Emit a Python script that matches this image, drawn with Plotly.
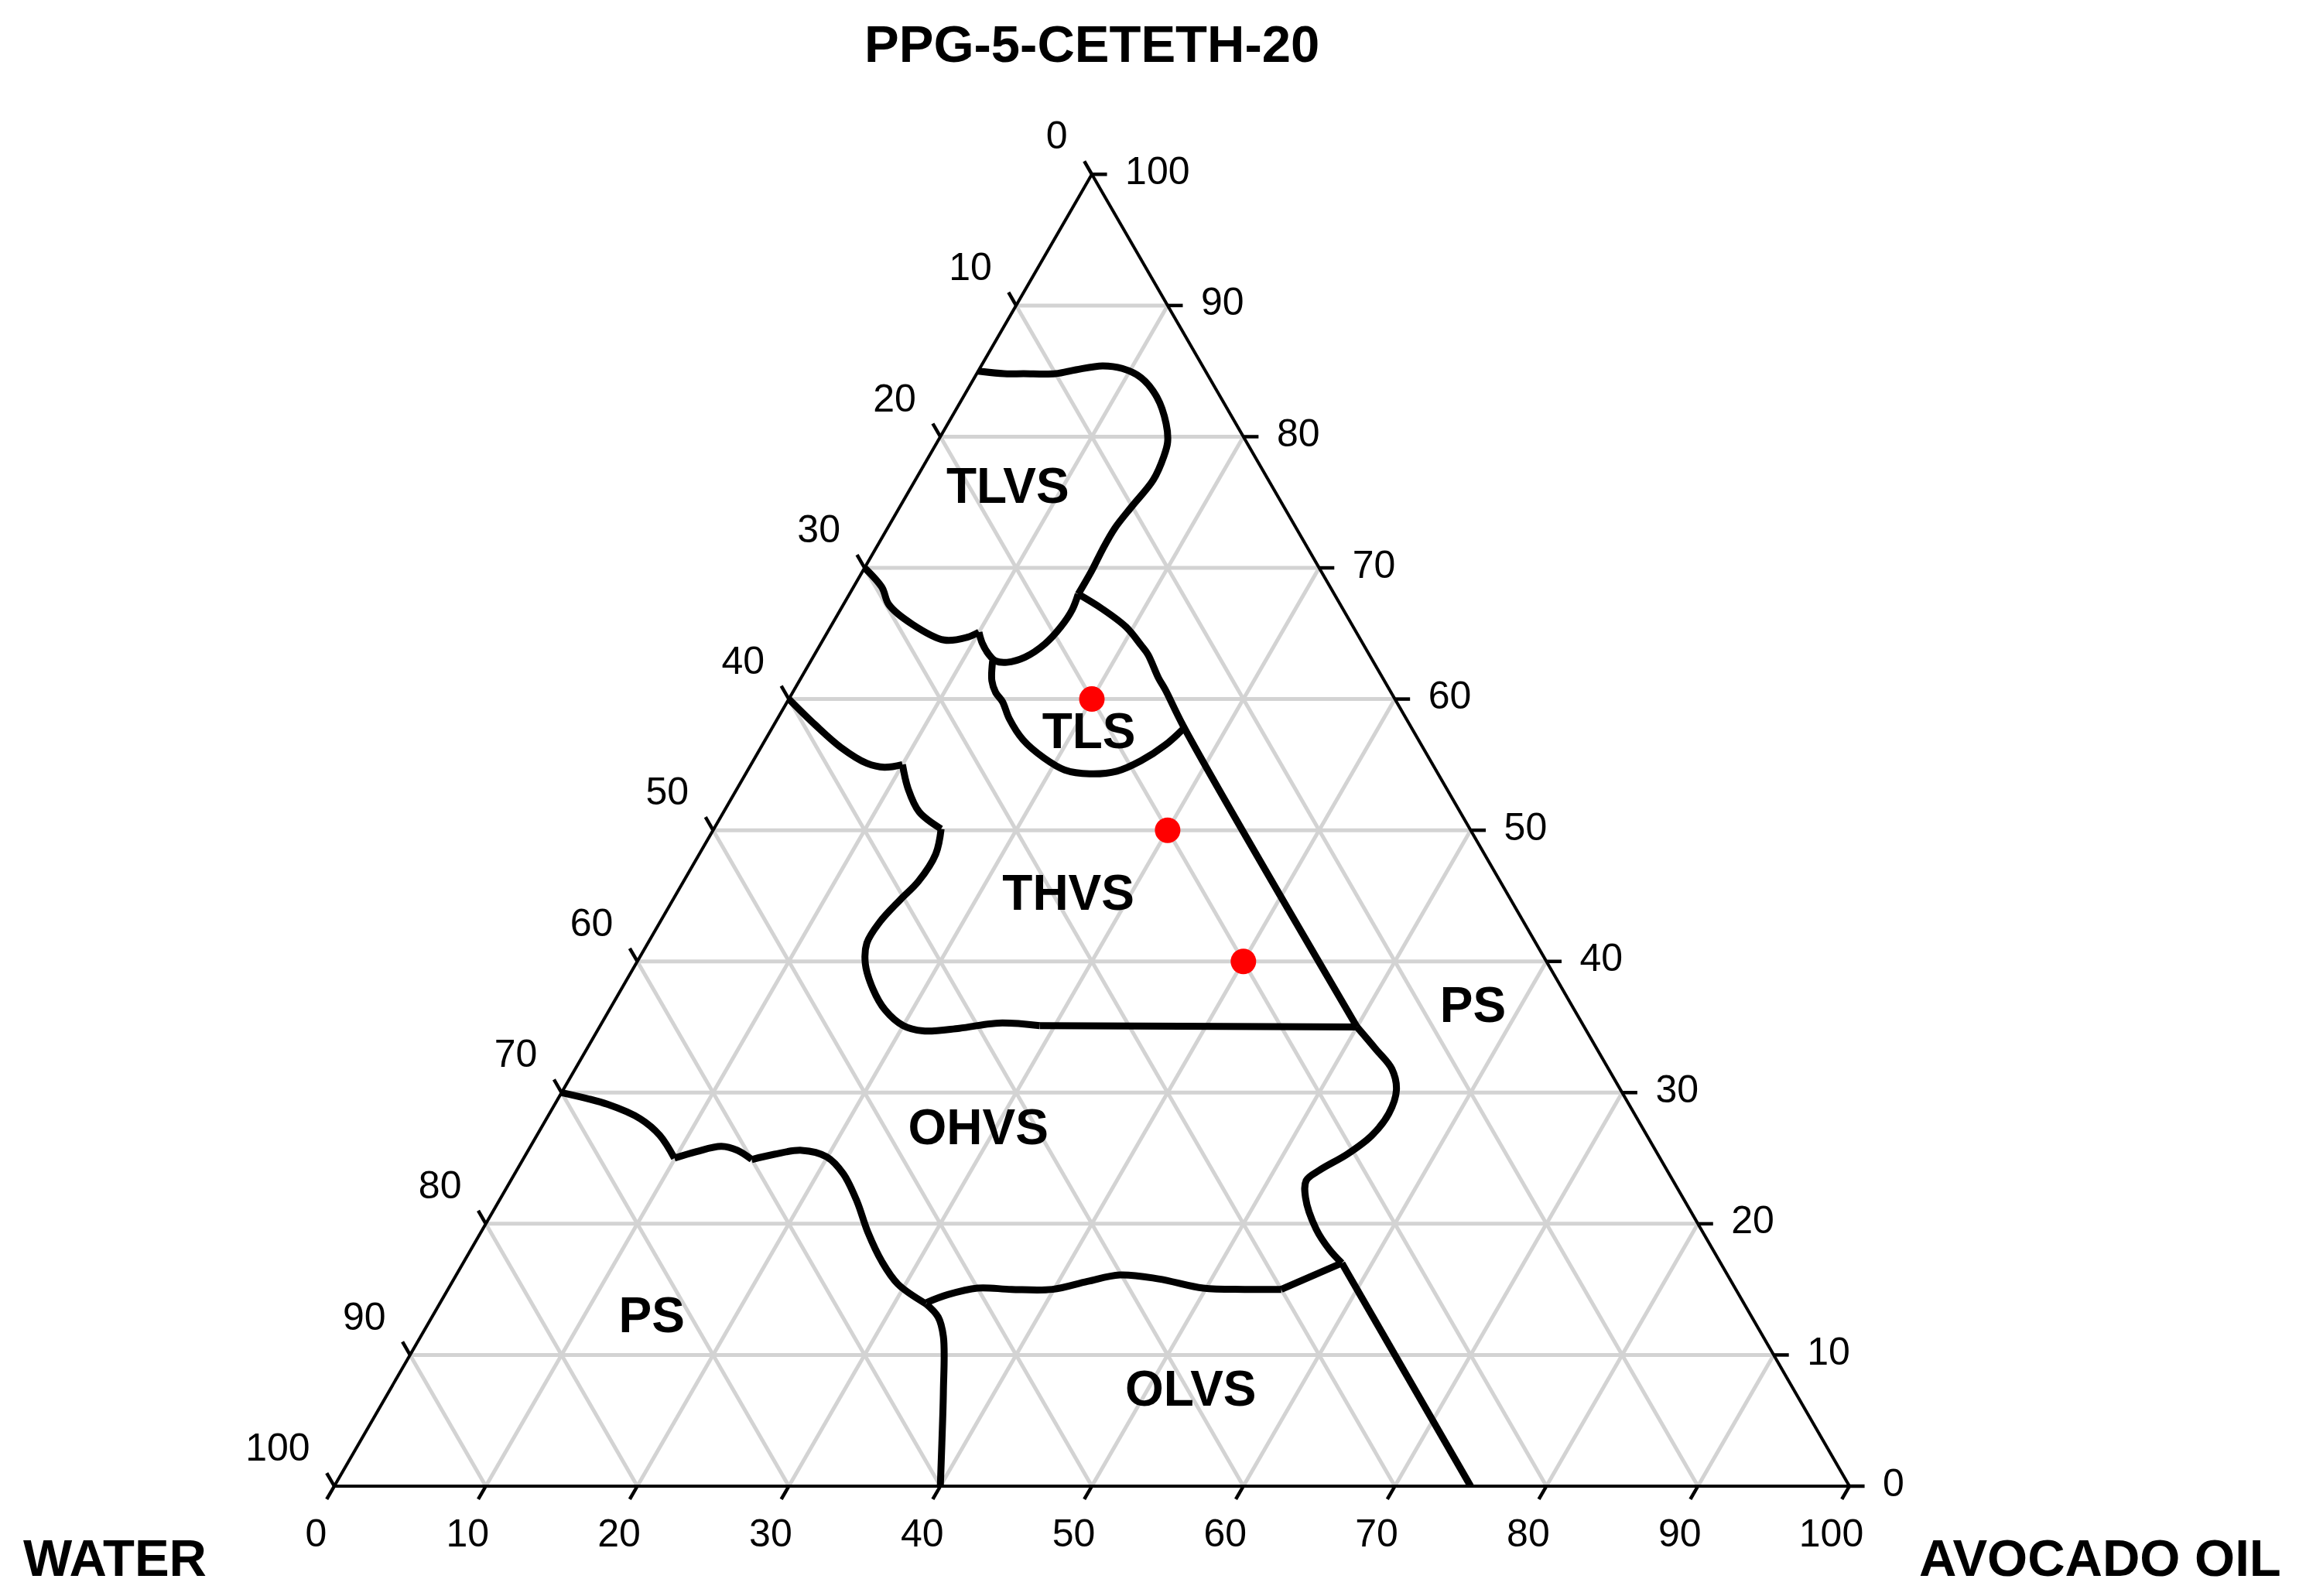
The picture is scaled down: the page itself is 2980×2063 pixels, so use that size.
import math
import plotly.graph_objects as go

FONT = "Liberation Sans, Arial, sans-serif"
W, H = 2980, 2063

# ternary components: top = PPG-5-CETETH-20, bottom left = WATER, bottom right = AVOCADO OIL
# each boundary is stored as PPG % and OIL %; water is the remainder

# TLVS outer boundary (left edge -> junction)
tlvs_out_ppg = [85.0, 84.8, 84.8, 84.8, 85.1, 85.4, 85.2, 84.5, 83.0, 81.0, 79.6, 78.5, 76.7, 74.7, 73.0, 71.4, 69.8, 68.0]
tlvs_out_oil = [0.0, 1.8, 3.1, 5.2, 6.4, 8.0, 9.4, 11.0, 12.8, 14.4, 15.2, 15.5, 15.7, 15.3, 15.0, 15.0, 15.1, 15.1]

# TLVS lower boundary (left edge -> corner)
tlvs_low_ppg = [70.0, 68.5, 67.2, 65.7, 64.5, 64.7, 65.1]
tlvs_low_oil = [0.0, 1.9, 3.0, 5.3, 8.0, 9.4, 10.0]

# V shaped piece between TLVS and TLS
v_ppg = [65.1, 64.3, 63.4, 62.9, 62.8, 63.2, 64.2, 65.5, 66.8, 68.0]
v_oil = [10.0, 10.6, 11.5, 12.2, 13.0, 14.0, 14.8, 15.2, 15.3, 15.1]

# TLS lower boundary
tls_ppg = [62.9, 61.4, 60.5, 59.8, 58.5, 56.9, 55.5, 54.6, 54.3, 54.5, 55.3, 56.5, 57.8]
tls_oil = [12.0, 12.7, 13.4, 14.2, 15.3, 17.0, 19.1, 20.9, 22.7, 24.4, 25.6, 26.6, 27.2]

# long boundary towards PS (right)
long_ppg = [68.0, 66.9, 65.5, 64.1, 63.4, 61.6, 60.7, 57.8, 35.0]
long_oil = [15.1, 17.2, 19.5, 21.2, 22.0, 23.6, 24.5, 27.2, 50.0]

# THVS left boundary, three pieces
thvs_a_ppg = [60.0, 58.05, 56.3, 55.1, 54.8, 55.0]
thvs_a_oil = [0.0, 2.7, 5.3, 7.6, 8.9, 10.0]
thvs_b_ppg = [55.0, 53.15, 51.4, 50.1]
thvs_b_oil = [10.0, 11.3, 12.9, 15.0]
thvs_c_ppg = [50.1, 48.2, 46.1, 44.7, 43.0, 41.4, 39.8, 37.9, 36.3, 35.1, 34.7, 34.9, 35.3, 35.1]
thvs_c_oil = [15.0, 15.6, 15.5, 15.0, 14.5, 14.45, 15.15, 16.6, 18.2, 20.0, 21.5, 23.8, 26.2, 29.0]
thvs_flat_ppg = [35.1, 35.0]
thvs_flat_oil = [29.0, 50.0]

# OHVS right boundary
ohvs_r_ppg = [35.0, 33.3, 31.8, 30.2, 28.4, 26.7, 25.3, 24.1, 23.3, 22.0, 19.6, 18.0, 17.0]
ohvs_r_oil = [50.0, 52.1, 53.9, 55.0, 55.4, 55.1, 54.2, 53.0, 52.5, 53.1, 55.0, 56.7, 58.0]

# OLVS right boundary
olvs_r_ppg = [17.0, 0.0]
olvs_r_oil = [58.0, 75.0]

# OLVS top boundary
olvs_t_ppg = [14.0, 14.6, 15.1, 15.0, 15.0, 15.6, 16.1, 15.8, 15.1, 15.0, 15.0]
olvs_t_oil = [32.1, 33.2, 34.9, 37.2, 39.9, 41.9, 43.8, 46.5, 49.8, 52.6, 55.0]
olvs_k_ppg = [15.0, 17.0]
olvs_k_oil = [55.0, 58.0]

# PS (left) boundary, three pieces
ps_a_ppg = [30.0, 29.1, 28.0, 26.75, 25.0]
ps_a_oil = [0.0, 3.5, 6.2, 8.1, 9.95]
ps_b_ppg = [25.0, 25.5, 25.9, 25.6, 24.9]
ps_b_oil = [9.95, 11.15, 12.6, 13.8, 15.1]
ps_c_ppg = [24.9, 25.3, 25.6, 25.1, 23.8, 21.7, 19.4, 17.1, 15.4, 13.9]
ps_c_oil = [15.1, 16.4, 18.05, 19.95, 21.7, 23.65, 25.5, 27.6, 29.5, 32.1]

# boundary down to the base
down_ppg = [13.9, 12.9, 11.4, 7.2, 3.3, 0.0]
down_oil = [32.1, 33.4, 34.5, 36.6, 38.45, 40.0]

# measured samples
pts_ppg = [60, 50, 40]
pts_oil = [20, 30, 40]
pts_water = [20, 20, 20]

# region labels
region_text = ["TLVS", "TLS", "THVS", "OHVS", "PS", "PS", "OLVS"]
region_ppg = [75.9, 57.2, 44.9, 27.0, 36.3, 12.7, 7.05]
region_oil = [6.5, 21.2, 26.0, 29.0, 57.0, 14.6, 53.0]

# ticks: water on the left edge, oil along the base, PPG on the right edge
tick_vals = [0, 10, 20, 30, 40, 50, 60, 70, 80, 90, 100]
tick_text = ["0", "10", "20", "30", "40", "50", "60", "70", "80", "90", "100"]

# triangle placement in pixels
TRI_L, TRI_R, TRI_B = 424, 2382, 1913
TRI_T = TRI_B - (TRI_R - TRI_L) * math.sqrt(3) / 2


def rest(ppg, oil):
    return [100 - p - o for p, o in zip(ppg, oil)]


segments = [
    (tlvs_out_ppg, tlvs_out_oil, "spline"),
    (tlvs_low_ppg, tlvs_low_oil, "spline"),
    (v_ppg, v_oil, "spline"),
    (tls_ppg, tls_oil, "spline"),
    (long_ppg, long_oil, "spline"),
    (thvs_a_ppg, thvs_a_oil, "spline"),
    (thvs_b_ppg, thvs_b_oil, "spline"),
    (thvs_c_ppg, thvs_c_oil, "spline"),
    (thvs_flat_ppg, thvs_flat_oil, "linear"),
    (ohvs_r_ppg, ohvs_r_oil, "spline"),
    (olvs_r_ppg, olvs_r_oil, "linear"),
    (olvs_t_ppg, olvs_t_oil, "spline"),
    (olvs_k_ppg, olvs_k_oil, "linear"),
    (ps_a_ppg, ps_a_oil, "spline"),
    (ps_b_ppg, ps_b_oil, "spline"),
    (ps_c_ppg, ps_c_oil, "spline"),
    (down_ppg, down_oil, "spline"),
]

fig = go.Figure()
for ppg, oil, shape in segments:
    fig.add_trace(go.Scatterternary(
        a=ppg, b=rest(ppg, oil), c=oil, mode="lines",
        line=dict(color="black", width=9, shape=shape),
        hoverinfo="skip", showlegend=False))

fig.add_trace(go.Scatterternary(
    a=pts_ppg, b=pts_water, c=pts_oil, mode="markers",
    marker=dict(color="#ff0000", size=33, symbol="circle"),
    showlegend=False))

fig.add_trace(go.Scatterternary(
    a=region_ppg, b=rest(region_ppg, region_oil), c=region_oil, mode="text",
    text=["<b>%s</b>" % t for t in region_text],
    textfont=dict(family=FONT, size=64, color="black"),
    hoverinfo="skip", showlegend=False))


# ticks and tick labels sit outside the triangle, so they go on a hidden
# cartesian overlay: x = oil + ppg/2, y = ppg (both in % of the triangle)
def flat(ppg, oil):
    return [o + p / 2 for p, o in zip(ppg, oil)], list(ppg)


def tick_lines(ppg_in, oil_in, ppg_out, oil_out):
    xi, yi = flat(ppg_in, oil_in)
    xo, yo = flat(ppg_out, oil_out)
    xs, ys = [], []
    for k in range(len(xi)):
        xs += [xi[k], xo[k], None]
        ys += [yi[k], yo[k], None]
    return xs, ys


tick_x, tick_y = [], []
for part in (
    # left edge (water): outwards along constant water
    tick_lines([100 - v for v in tick_vals], [0 for v in tick_vals],
               [101 - v for v in tick_vals], [-1 for v in tick_vals]),
    # right edge (ppg): outwards horizontally
    tick_lines(tick_vals, [100 - v for v in tick_vals],
               tick_vals, [101 - v for v in tick_vals]),
    # base (oil): outwards along constant oil
    tick_lines([0 for v in tick_vals], tick_vals,
               [-1 for v in tick_vals], tick_vals),
):
    tick_x += part[0]
    tick_y += part[1]

fig.add_trace(go.Scatter(
    x=tick_x, y=tick_y, mode="lines", line=dict(color="black", width=4.5),
    hoverinfo="skip", showlegend=False))

lab_font = dict(family=FONT, size=50, color="black")
for ppg, oil, pos in (
    ([101.2 - v for v in tick_vals], [-2.2 for v in tick_vals], "top left"),
    (tick_vals, [102.2 - v for v in tick_vals], "middle right"),
    ([-2.4 for v in tick_vals], tick_vals, "bottom center"),
):
    lx, ly = flat(ppg, oil)
    fig.add_trace(go.Scatter(
        x=lx, y=ly, mode="text", text=tick_text, textposition=pos,
        textfont=lab_font, hoverinfo="skip", showlegend=False))

axis = dict(
    min=0, ticks="", showticklabels=False,
    showline=True, linecolor="black", linewidth=4,
    showgrid=True, gridcolor="#d3d3d3", gridwidth=5,
    tickmode="array", tickvals=tick_vals,
    title=dict(text=""), layer="below traces")

ux = (TRI_R - TRI_L) / 100
uy = (TRI_B - TRI_T) / 100

fig.update_layout(
    width=W, height=H, autosize=False,
    margin=dict(l=0, r=0, t=0, b=0),
    paper_bgcolor="white", plot_bgcolor="rgba(0,0,0,0)",
    font=dict(family=FONT, color="black"),
    xaxis=dict(domain=[0, 1], range=[-TRI_L / ux, (W - TRI_L) / ux], visible=False),
    yaxis=dict(domain=[0, 1], range=[-(H - TRI_B) / uy, TRI_B / uy], visible=False),
    ternary=dict(
        sum=100, bgcolor="white",
        domain=dict(x=[TRI_L / W, TRI_R / W], y=[(H - TRI_B) / H, (H - TRI_T) / H]),
        aaxis=axis, baxis=axis, caxis=axis),
    annotations=[
        dict(text="<b>PPG-5-CETETH-20</b>", x=1403 / W, y=1 - 48 / H,
             xref="paper", yref="paper", xanchor="center", yanchor="middle",
             showarrow=False, font=dict(family=FONT, size=67)),
        dict(text="<b>WATER</b>", x=140 / W, y=1 - 2005 / H,
             xref="paper", yref="paper", xanchor="center", yanchor="middle",
             showarrow=False, font=dict(family=FONT, size=67)),
        dict(text="<b>AVOCADO OIL</b>", x=2706 / W, y=1 - 2005 / H,
             xref="paper", yref="paper", xanchor="center", yanchor="middle",
             showarrow=False, font=dict(family=FONT, size=67)),
    ])

fig.write_html("out.html")
